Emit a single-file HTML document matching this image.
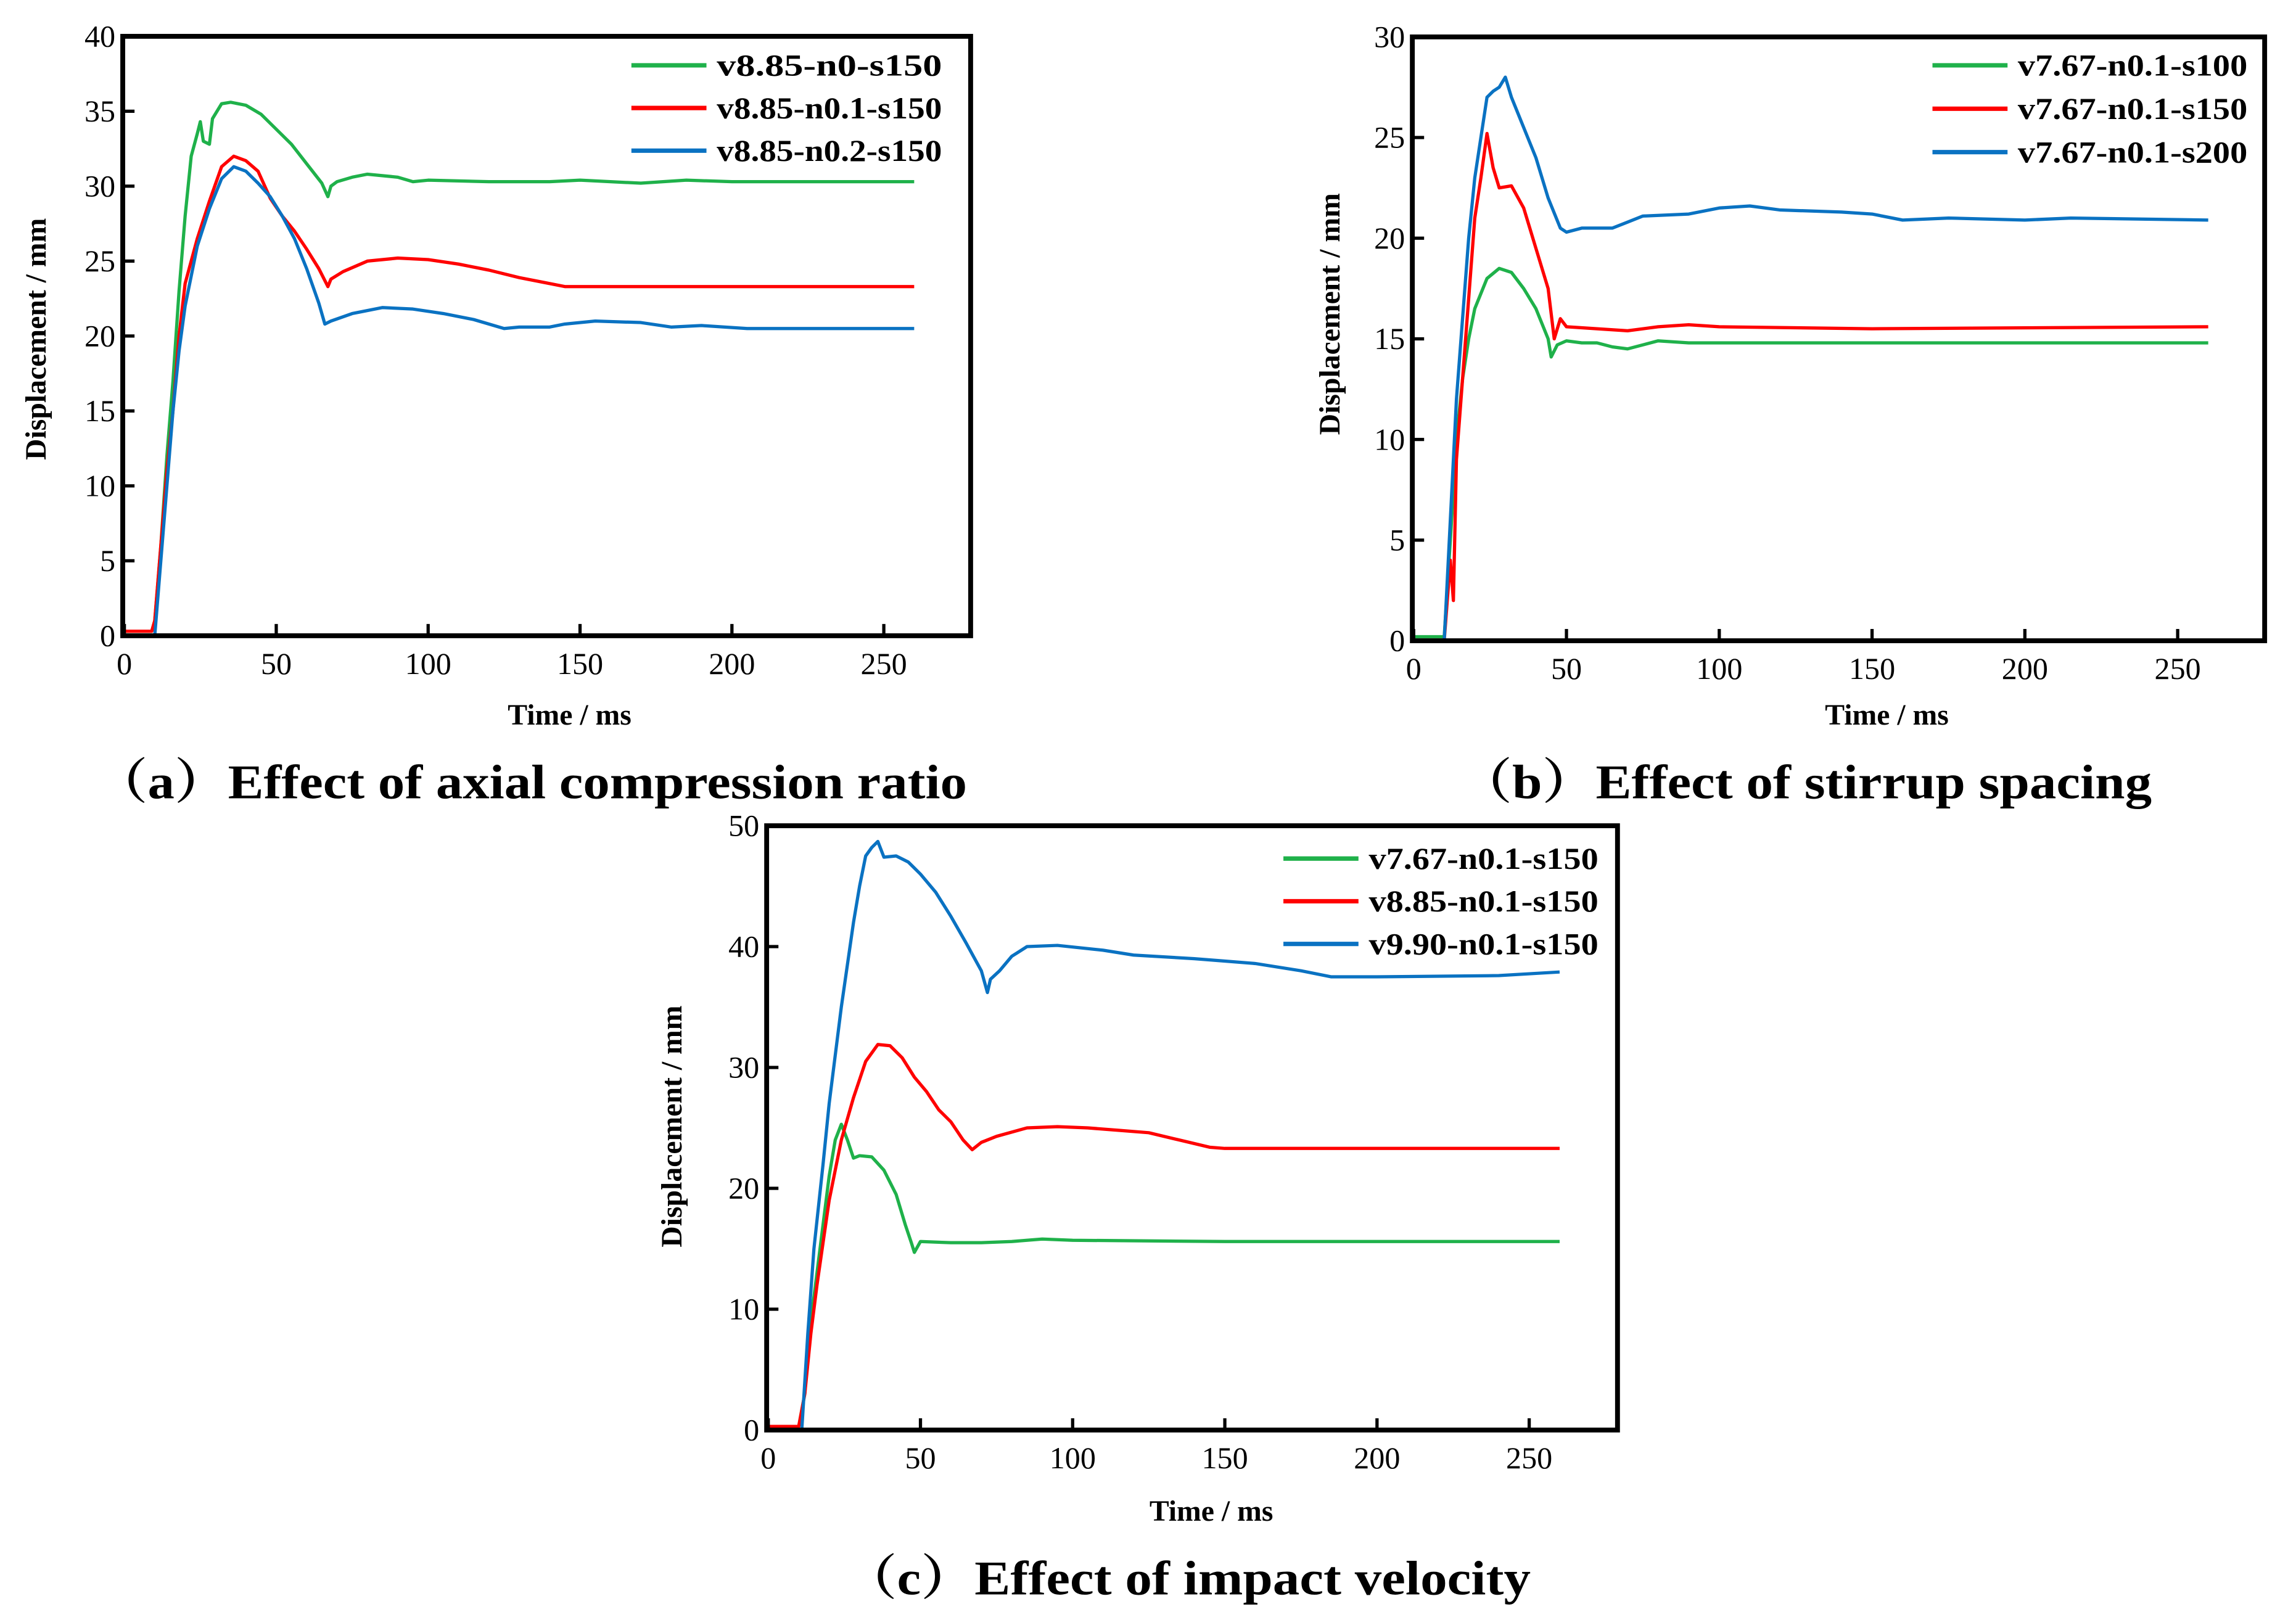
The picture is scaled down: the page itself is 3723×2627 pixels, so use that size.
<!DOCTYPE html>
<html><head><meta charset="utf-8"><style>
html,body{margin:0;padding:0;background:#fff;}
svg{display:block;}
text{font-family:"Liberation Serif","Noto Serif CJK SC",serif;fill:#000;}
.tick{font-size:21px;}
.bold{font-weight:bold;}
</style></head><body>
<svg id="fig" width="3723" height="2627" viewBox="0 0 1560 1100" xmlns="http://www.w3.org/2000/svg">
<rect width="1560" height="1100" fill="#fff"/>
</svg>
<script>
// ---- data ----
const xTicks = [0,50,100,150,200,250];
const yTicksA = [0,5,10,15,20,25,30,35,40];
const yTicksB = [0,5,10,15,20,25,30];
const yTicksC = [0,10,20,30,40,50];
const namesA = ["v8.85-n0-s150","v8.85-n0.1-s150","v8.85-n0.2-s150"];
const namesB = ["v7.67-n0.1-s100","v7.67-n0.1-s150","v7.67-n0.1-s200"];
const namesC = ["v7.67-n0.1-s150","v8.85-n0.1-s150","v9.90-n0.1-s150"];
const aGreen = [[0,0.3],[9,0.3],[10,1],[12,6],[14,12],[16,17],[18,23],[20,28],[22,32],[24,33.5],[25,34.3],[26,33],[28,32.8],[29,34.5],[32,35.5],[35,35.6],[40,35.4],[45,34.8],[50,33.8],[55,32.8],[60,31.5],[65,30.2],[67,29.3],[68,30],[70,30.3],[75,30.6],[80,30.8],[90,30.6],[95,30.3],[100,30.4],[120,30.3],[140,30.3],[150,30.4],[160,30.3],[170,30.2],[185,30.4],[200,30.3],[260,30.3]];
const aRed = [[0,0.3],[9,0.3],[10,1],[12,6],[14,11],[16,15],[18,20],[20,23.5],[24,26.5],[28,29],[32,31.3],[36,32],[40,31.7],[44,31],[48,29.2],[52,28],[56,27],[60,25.8],[64,24.5],[67,23.3],[68,23.8],[72,24.3],[80,25],[90,25.2],[100,25.1],[110,24.8],[120,24.4],[130,23.9],[140,23.5],[145,23.3],[260,23.3]];
const aBlue = [[0,0],[10,0],[12,5],[14,10],[16,15],[18,19],[20,22],[24,26],[28,28.5],[32,30.5],[36,31.3],[40,31],[44,30.2],[48,29.3],[52,28],[56,26.5],[60,24.5],[64,22.2],[66,20.8],[68,21],[75,21.5],[85,21.9],[95,21.8],[105,21.5],[115,21.1],[125,20.5],[130,20.6],[140,20.6],[145,20.8],[155,21],[170,20.9],[180,20.6],[190,20.7],[205,20.5],[260,20.5]];
const bGreen = [[0,0.2],[10,0.2],[12,5],[14,10],[16,13],[18,15],[20,16.5],[24,18],[28,18.5],[32,18.3],[36,17.5],[40,16.5],[44,15],[45,14.1],[47,14.7],[50,14.9],[55,14.8],[60,14.8],[65,14.6],[70,14.5],[75,14.7],[80,14.9],[90,14.8],[260,14.8]];
const bRed = [[0,0],[10,0],[12,4],[13,2],[14,9],[16,13],[18,17],[20,21],[22,23],[24,25.2],[26,23.5],[28,22.5],[32,22.6],[36,21.5],[40,19.5],[44,17.5],[46,15],[48,16],[50,15.6],[60,15.5],[70,15.4],[80,15.6],[90,15.7],[100,15.6],[150,15.5],[260,15.6]];
const bBlue = [[0,0],[10,0],[12,6],[14,12],[16,16],[18,20],[20,23],[22,25],[24,27],[26,27.3],[28,27.5],[30,28],[32,27],[36,25.5],[40,24],[44,22],[48,20.5],[50,20.3],[55,20.5],[65,20.5],[70,20.8],[75,21.1],[90,21.2],[100,21.5],[110,21.6],[120,21.4],[140,21.3],[150,21.2],[160,20.9],[175,21],[200,20.9],[215,21],[260,20.9]];
const cGreen = [[0,0.3],[10,0.3],[12,3],[14,9],[16,13],[18,17],[20,21],[22,24],[24,25.3],[26,24],[28,22.5],[30,22.7],[34,22.6],[38,21.5],[42,19.5],[45,17],[47,15.5],[48,14.7],[50,15.6],[60,15.5],[70,15.5],[80,15.6],[90,15.8],[100,15.7],[150,15.6],[260,15.6]];
const cRed = [[0,0.3],[10,0.3],[12,3],[14,8],[16,12],[18,15.5],[20,19],[24,24],[28,27.5],[32,30.5],[36,31.9],[40,31.8],[44,30.8],[48,29.2],[52,28],[56,26.5],[60,25.5],[64,24],[67,23.2],[70,23.8],[75,24.3],[85,25],[95,25.1],[105,25],[115,24.8],[125,24.6],[135,24],[145,23.4],[150,23.3],[260,23.3]];
const cBlue = [[0,0],[11,0],[13,8],[15,15],[18,22],[20,27],[24,35],[28,42],[30,45],[32,47.5],[34,48.2],[36,48.7],[38,47.4],[42,47.5],[46,47],[50,46],[55,44.5],[60,42.5],[65,40.3],[70,38],[72,36.2],[73,37.3],[76,38],[80,39.2],[85,40],[95,40.1],[110,39.7],[120,39.3],[140,39],[150,38.8],[160,38.6],[175,38],[185,37.5],[200,37.5],[240,37.6],[260,37.9]];

const colors = ["#1fb14a","#ff0000","#0a72c2"];
const NS = "http://www.w3.org/2000/svg";
const svg = document.getElementById('fig');
function mk(tag, attrs, parent){const e=document.createElementNS(NS,tag);for(const k in attrs)e.setAttribute(k,attrs[k]);(parent||svg).appendChild(e);return e;}

function panel(p){
  const g = mk('g',{});
  
  
  const xs = v => p.x0 + (v/250)*(p.x250-p.x0);
  const ys = v => p.bottom - (v/p.ymax)*(p.bottom-p.top);
  p.series.forEach((s,i)=>{
    const d = s.map((pt,j)=>(j?'L':'M')+xs(pt[0]).toFixed(2)+' '+ys(pt[1]).toFixed(2)).join(' ');
    const path = mk('path',{d:d,fill:'none',stroke:colors[i],'stroke-width':2.2,'stroke-linejoin':'round'},g);
    
    
  });
  const fr = mk('rect',{x:p.left,y:p.top,width:p.right-p.left,height:p.bottom-p.top,fill:'none',stroke:'#000','stroke-width':3.3},g);
  
  
  xTicks.forEach(v=>{
    mk('line',{x1:xs(v),x2:xs(v),y1:p.bottom,y2:p.bottom-8,stroke:'#000','stroke-width':2.2},g);
    const t = mk('text',{x:xs(v),y:p.bottom+26,'text-anchor':'middle',class:'tick'},g);
    t.textContent = v;
    
    
  });
  p.yTicks.forEach(v=>{
    mk('line',{x1:p.left,x2:p.left+8,y1:ys(v),y2:ys(v),stroke:'#000','stroke-width':2.2},g);
    const t = mk('text',{x:p.left-5,y:ys(v)+7,'text-anchor':'end',class:'tick'},g);
    t.textContent = v;
    
    
  });
  const xt = mk('text',{x:p.xlab[0],y:p.xlab[1],'text-anchor':'middle',class:'bold','font-size':20},g);
  xt.textContent = 'Time / ms';
  
  
  const yt = mk('text',{x:0,y:0,'text-anchor':'middle',class:'bold','font-size':20,transform:`translate(${p.ylab[0]},${p.ylab[1]}) rotate(-90)`},g);
  yt.textContent = 'Displacement / mm';
  
  
  p.names.forEach((n,i)=>{
    const y = p.leg[1] + i*p.leg[3];
    mk('line',{x1:p.leg[0],x2:p.leg[0]+51,y1:y,y2:y,stroke:colors[i],'stroke-width':3},g);
    const t = mk('text',{x:p.leg[0]+58,y:y+7,class:'bold','font-size':21,textLength:p.leg[2],lengthAdjust:'spacingAndGlyphs'},g);
    t.textContent = n;
    
    
  });
  const c = mk('text',{x:p.cap[0],y:p.cap[1],class:'bold','font-size':33,textLength:p.cap[2],lengthAdjust:'spacingAndGlyphs'},g);
  c.textContent = p.caption;
  
  
}

panel({id:'panel-a',left:83.4,right:659.5,top:24.3,bottom:431.6,x0:84.5,x250:600.5,ymax:40,yTicks:yTicksA,
  series:[aGreen,aRed,aBlue],names:namesA,xlab:[387,492],ylab:[31,230],leg:[429,44,153,29],
  caption:'（a）Effect of axial compression ratio',cap:[64,542,593]});
panel({id:'panel-b',left:959.6,right:1538.7,top:24.7,bottom:435,x0:960.5,x250:1479.6,ymax:30,yTicks:yTicksB,
  series:[bGreen,bRed,bBlue],names:namesB,xlab:[1282,492],ylab:[910,213],leg:[1313,44,156,29.5],
  caption:'（b）Effect of stirrup spacing',cap:[991,542,471]});
panel({id:'panel-c',left:520.9,right:1099,top:560.7,bottom:971.3,x0:522,x250:1039,ymax:50,yTicks:yTicksC,
  series:[cGreen,cRed,cBlue],names:namesC,xlab:[823,1033],ylab:[463,765],leg:[872,583,156,29],
  caption:'（c）Effect of impact velocity',cap:[573,1083,467]});
</script>
</body></html>
